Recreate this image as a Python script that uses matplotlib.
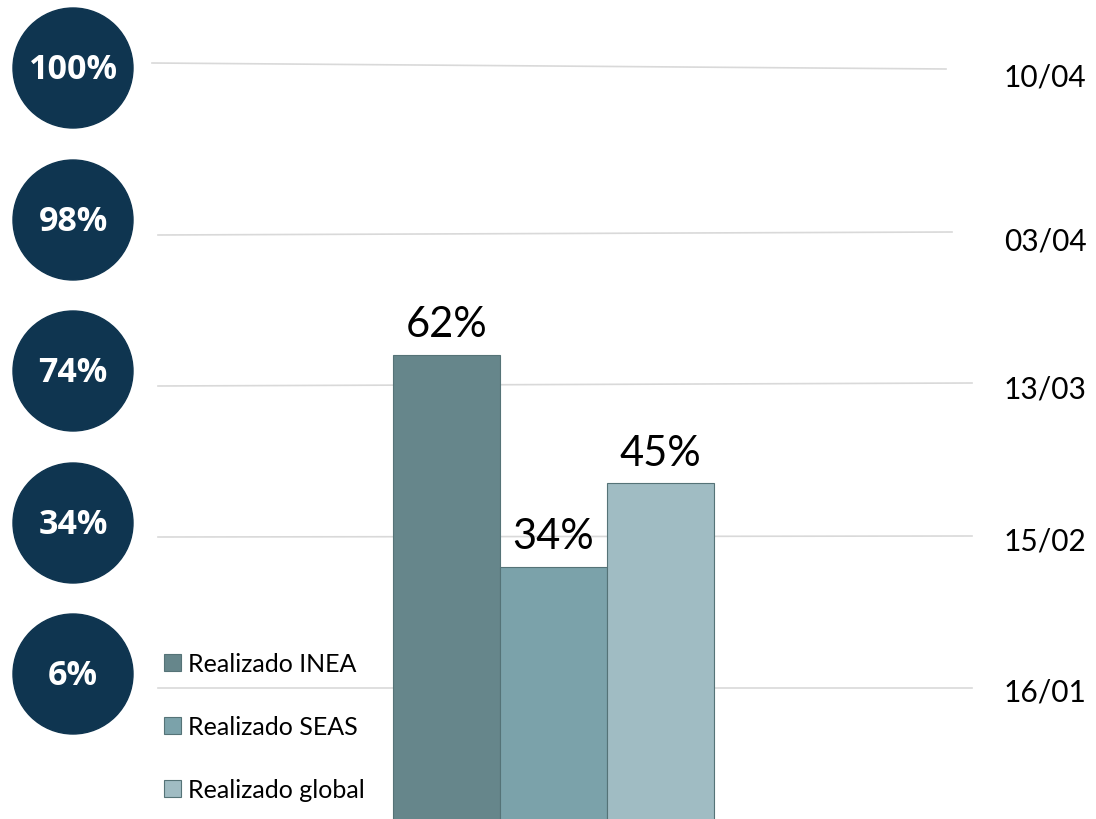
import numpy as np
import matplotlib.pyplot as plt
from matplotlib.patches import Circle

# data
series = ['Realizado INEA', 'Realizado SEAS', 'Realizado global']
values = [62, 34, 45]
bar_colors = ['#66868b', '#7ba2aa', '#a0bcc3']

milestones = ['100%', '98%', '74%', '34%', '6%']
dates = ['10/04', '03/04', '13/03', '15/02', '16/01']

# layout (pixels)
W, H = 1096, 820
circle_y = [69, 221, 372, 524, 675]
date_y = [78, 242, 390, 542, 693]
rule_lines = [((152, 946), (64, 70)), ((158, 952), (236, 233)),
              ((158, 972), (387, 384)), ((158, 972), (538, 537)),
              ((158, 972), (689, 689))]

fig = plt.figure(figsize=(W / 100, H / 100), dpi=100)

# bars axes: 0% sits just below the bottom edge
ax = fig.add_axes([0, 0, 1, 1])
px_per_pct = 7.57
base = 825
ax.set_ylim((base - H) / px_per_pct, base / px_per_pct)
bw = 107
cx0 = 446.5
ax.set_xlim(-cx0 / bw, (W - cx0) / bw)
ax.axis('off')

# overlay axes in pixel coords for circles, rules and dates
ov = fig.add_axes([0, 0, 1, 1], zorder=-1)
ov.set_xlim(0, W)
ov.set_ylim(H, 0)
ov.axis('off')

for (xs, ys) in rule_lines:
    ov.plot(xs, ys, color='#d9d9d9', lw=1.2)

for y, lab in zip(circle_y, milestones):
    ov.add_patch(Circle((73, y), 60, color='#0f3550'))
    ov.text(73, y + 1, lab, color='white', fontsize=24.5, fontweight='bold',
            family='Open Sans', ha='center', va='center')

for y, d in zip(date_y, dates):
    ov.text(1045, y, d, fontsize=21.5, family='Lato', ha='center', va='center')

xpos = np.arange(len(values))
bars = ax.bar(xpos, values, width=1.0, color=bar_colors,
              edgecolor='#557377', linewidth=0.8)
for b, lab, v in zip(bars, series, values):
    b.set_label(lab)
    ax.text(b.get_x() + b.get_width() / 2, v + 1.5, f'{v}%', fontsize=30,
            family='Lato', ha='center', va='bottom')

leg = ax.legend(handles=list(bars), loc='lower left', bbox_to_anchor=(146 / W, 0.0),
                frameon=False, prop={'family': 'Lato', 'size': 18},
                handlelength=0.68, handleheight=0.68, handletextpad=0.3,
                labelspacing=1.6, borderaxespad=0.3)

fig.savefig('out.png', dpi=100, facecolor='white')
